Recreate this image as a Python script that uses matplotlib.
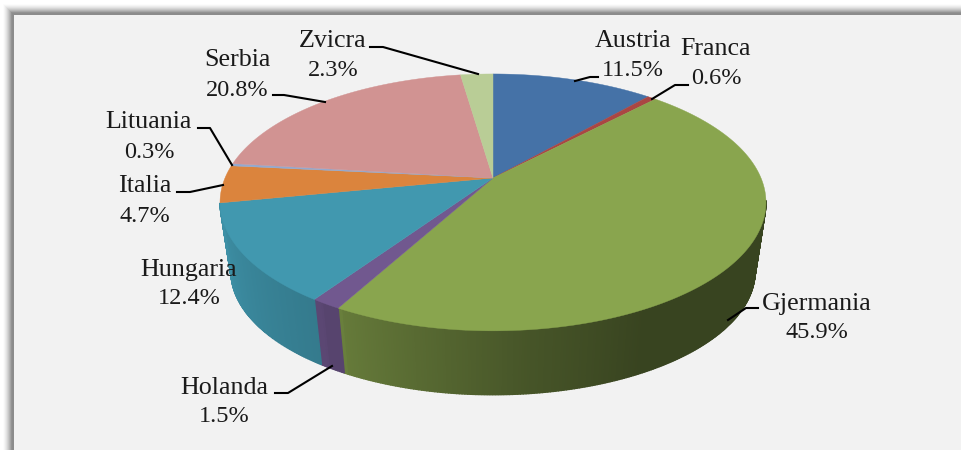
import numpy as np
import matplotlib
matplotlib.use("Agg")
import matplotlib.pyplot as plt
from matplotlib.patches import Polygon, Rectangle

countries = ['Austria', 'Franca', 'Gjermania', 'Holanda', 'Hungaria', 'Italia', 'Lituania', 'Serbia', 'Zvicra']
shares = [11.5, 0.6, 45.9, 1.5, 12.4, 4.7, 0.3, 20.8, 2.3]
colors = ['#4572a7', '#aa4643', '#89a54e', '#71588f', '#4198af', '#db843d', '#93a9cf', '#d19392', '#b9cd96']

# label centre x, name y, pct y
label_pos = [(633, 41, 70), (716, 49, 79), (817, 304, 333), (224, 388, 416), (189, 270, 299),
             (145, 186, 216), (149, 122, 152), (237, 60, 90), (333, 41, 71)]
# leader lines
leaders = [[(575, 81), (590, 77), (598, 77)], [(652, 99), (675, 85), (688, 85)],
           [(728, 320), (746, 308), (758, 308)], [(332, 366), (288, 393), (275, 393)],
           None, [(223, 185), (190, 192), (177, 192)], [(232, 165), (210, 128), (198, 128)],
           [(325, 102), (284, 95), (273, 95)], [(478, 74), (383, 47), (370, 47)]]


def project(deg, cx=493, cy=178, a=268, b=123.8, p=0.19):
    # clockwise from the top of the pie, with perspective
    t = np.radians(deg)
    d = 1 + p * np.cos(t)
    return cx + a * np.sin(t) / d, cy - b * np.cos(t) / d


def lower(deg):
    return project(deg, cy=248, a=268 * 0.96, b=123.8 * 0.96)


def side_shade(deg):
    # light falls off towards the right front of the side wall
    if deg > 212.5:
        return np.interp(deg, [212.5, 258], [0.8, 0.95])
    if deg > 208:
        return 0.77
    return np.interp(deg, [90, 152, 175, 208], [0.41, 0.41, 0.52, 0.74])


fig = plt.figure(figsize=(9.61, 4.5), dpi=100)
ax = fig.add_axes([0, 0, 1, 1])
ax.set_xlim(0, 961)
ax.set_ylim(450, 0)
ax.axis('off')

# panel with soft shadow
for i in range(10, 0, -1):
    g = 1 - 0.5 * ((11 - i) / 10) ** 1.6
    ax.add_patch(Rectangle((13 - i, 14 - i), 970, 460, fc=(g, g, g), ec='none'))
ax.add_patch(Rectangle((12, 13), 970, 460, fc='#8c8c8c', ec='none'))
ax.add_patch(Rectangle((14, 15), 970, 460, fc='#f2f2f2', ec='none'))

edges = np.concatenate([[0], np.cumsum(shares)]) * 3.6

# side wall first, thin strips so the shading runs smoothly
for start, end, col in zip(edges[:-1], edges[1:], colors):
    angs = np.arange(start, end + 0.5, 0.5)
    angs[-1] = end
    rgb = np.array(matplotlib.colors.to_rgb(col))
    for a0, a1 in zip(angs[:-1], angs[1:]):
        # only the front of the wall shows
        if a0 < 100 or a1 > 259:
            continue
        pts = [project(a0), project(a1), lower(a1), lower(a0)]
        c = rgb * side_shade((a0 + a1) / 2)
        ax.add_patch(Polygon(pts, closed=True, fc=c, ec=c, lw=1.0))

# top face
for start, end, col in zip(edges[:-1], edges[1:], colors):
    angs = np.linspace(start, end, max(int(end - start) * 2, 3))
    pts = [(493, 178)] + [project(x) for x in angs]
    ax.add_patch(Polygon(pts, closed=True, fc=col, ec=col, lw=0.3))

for name, pct, pos, line in zip(countries, shares, label_pos, leaders):
    ax.text(pos[0], pos[1], name, ha='center', va='center', fontsize=18.7,
            family='Liberation Serif', color='#1a1a1a')
    ax.text(pos[0], pos[2], f'{pct:.1f}%', ha='center', va='center', fontsize=17.5,
            family='Liberation Serif', color='#1a1a1a')
    if line:
        ax.plot(*zip(*line), color='black', lw=1.5, solid_joinstyle='round')

fig.savefig('out.png', dpi=100)
